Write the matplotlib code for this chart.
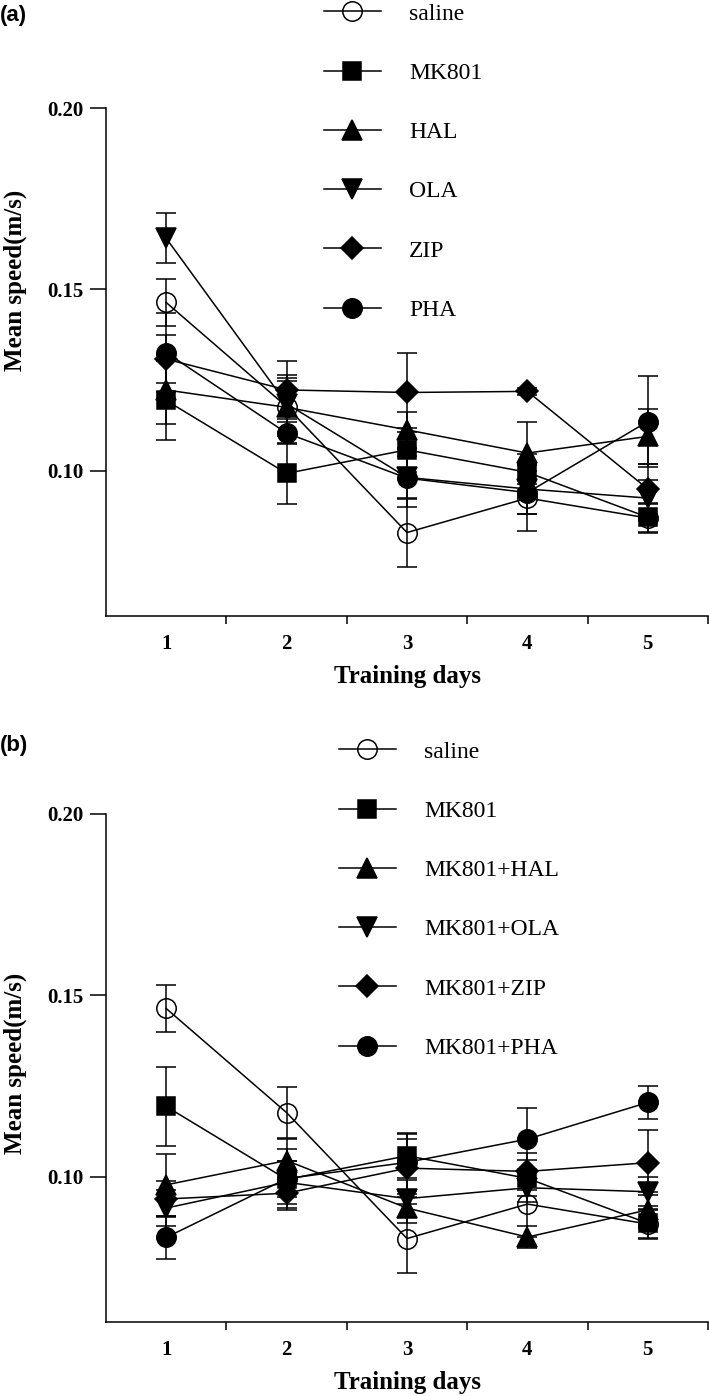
import numpy as np
import matplotlib
matplotlib.use('Agg')
import matplotlib.pyplot as plt
from matplotlib.lines import Line2D

days = [1, 2, 3, 4, 5]

# panel (a)
namesA = ['saline', 'MK801', 'HAL', 'OLA', 'ZIP', 'PHA']
salineMean = [0.1464, 0.1177, 0.0830, 0.0925, 0.0870]
salineErr = [0.0064, 0.0070, 0.0095, 0.0090, 0.0040]
mk801Mean = [0.1194, 0.0993, 0.1058, 0.0996, 0.0872]
mk801Err = [0.0110, 0.0085, 0.0060, 0.0050, 0.0040]
halMean = [0.1223, 0.1175, 0.1113, 0.1049, 0.1095]
halErr = [0.0095, 0.0080, 0.0050, 0.0085, 0.0075]
olaMean = [0.1641, 0.1185, 0.0982, 0.0950, 0.0925]
olaErr = [0.0069, 0.0080, 0.0060, 0.0070, 0.0050]
zipMean = [0.1308, 0.1223, 0.1216, 0.1219, 0.0950]
zipErr = [0.0067, 0.0080, 0.0110, 0.0010, 0.0070]
phaMean = [0.1326, 0.1104, 0.0980, 0.0940, 0.1136]
phaErr = [0.0110, 0.0030, 0.0080, 0.0060, 0.0125]

# panel (b)
namesB = ['saline', 'MK801', 'MK801+HAL', 'MK801+OLA', 'MK801+ZIP', 'MK801+PHA']
mkHalMean = [0.0978, 0.1045, 0.0914, 0.0834, 0.0909]
mkHalErr = [0.0085, 0.0060, 0.0040, 0.0030, 0.0050]
mkOlaMean = [0.0914, 0.0985, 0.0940, 0.0970, 0.0959]
mkOlaErr = [0.0050, 0.0060, 0.0050, 0.0040, 0.0040]
mkZipMean = [0.0939, 0.0955, 0.1024, 0.1015, 0.1039]
mkZipErr = [0.0050, 0.0040, 0.0080, 0.0050, 0.0090]
mkPhaMean = [0.0833, 0.0995, 0.1040, 0.1104, 0.1205]
mkPhaErr = [0.0060, 0.0050, 0.0080, 0.0085, 0.0045]

markers = ['o', 's', '^', 'v', 'D', 'o']
faces = ['none', 'k', 'k', 'k', 'k', 'k']
sizes = [14, 13, 14, 14, 11, 14]

serif = 'Liberation Serif'
W, H = 709, 1396

fig = plt.figure(figsize=(W / 100, H / 100), dpi=100)
axA = fig.add_axes([106 / W, 1 - 616 / H, 602 / W, 508 / H])
axB = fig.add_axes([106 / W, 1 - 1322 / H, 602 / W, 508 / H])


def draw(ax, means, errs, ylabelPos):
    for m, e, mk, fc, s in zip(means, errs, markers, faces, sizes):
        ax.errorbar(days, m, yerr=e, marker=mk, ms=s, mfc=fc, mec='k', mew=1.1,
                    color='k', lw=1.1, elinewidth=1.1, capsize=7, capthick=1.1)
    ax.set_xlim(0.5, 5.5)
    ax.set_ylim(0.06, 0.20)
    ax.spines['top'].set_visible(False)
    ax.spines['right'].set_visible(False)
    ax.spines['left'].set_linewidth(1.1)
    ax.spines['bottom'].set_linewidth(1.1)
    ax.set_yticks([0.10, 0.15, 0.20])
    ax.set_yticklabels(['0.10', '0.15', '0.20'], family=serif, fontweight='bold', fontsize=15)
    ax.set_xticks([1.5, 2.5, 3.5, 4.5, 5.5])
    ax.set_xticklabels([])
    ax.set_xticks(days, minor=True)
    ax.set_xticklabels([str(d) for d in days], minor=True, family=serif, fontweight='bold', fontsize=15)
    ax.tick_params(axis='x', which='major', direction='out', length=6, width=1.1)
    ax.tick_params(axis='x', which='minor', length=0, pad=13)
    ax.tick_params(axis='y', direction='out', length=11.5, width=1.1, pad=5)
    ax.set_xlabel('Training days', family=serif, fontweight='bold', fontsize=18, labelpad=8)
    ax.set_ylabel('Mean speed(m/s)', family=serif, fontweight='bold', fontsize=18)
    ax.yaxis.set_label_coords(-0.131, ylabelPos)


def legend(labels, x, ytop):
    handles = [Line2D([], [], color='k', lw=1.1, marker=mk, ms=s, mfc=fc, mec='k', mew=1.1)
               for mk, fc, s in zip(markers, faces, sizes)]
    fig.legend(handles, labels, loc='upper left', bbox_to_anchor=(x / W, 1 - ytop / H),
               frameon=False, prop={'family': serif, 'size': 17}, handlelength=2.4,
               handletextpad=1.2, labelspacing=1.6, borderpad=0, borderaxespad=0)


draw(axA, [salineMean, mk801Mean, halMean, olaMean, zipMean, phaMean],
     [salineErr, mk801Err, halErr, olaErr, zipErr, phaErr], 0.66)
draw(axB, [salineMean, mk801Mean, mkHalMean, mkOlaMean, mkZipMean, mkPhaMean],
     [salineErr, mk801Err, mkHalErr, mkOlaErr, mkZipErr, mkPhaErr], 0.51)

legend(namesA, 324, 3)
legend(namesB, 339, 741)

fig.text(0.0, 1 - 15 / H, '(a)', family='Liberation Sans', fontweight='bold', fontsize=16, va='center')
fig.text(0.0, 1 - 745 / H, '(b)', family='Liberation Sans', fontweight='bold', fontsize=16, va='center')

fig.savefig('out.png', dpi=100)
